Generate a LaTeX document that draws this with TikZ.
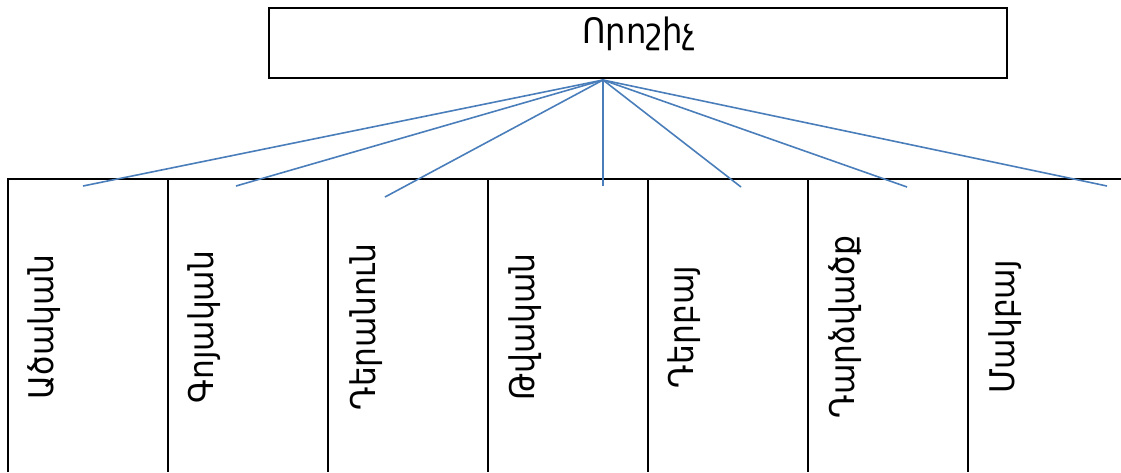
\documentclass[tikz,border=0pt]{standalone}
\usepackage{fontspec}
\setmainfont{DejaVu Sans}[FakeStretch=0.92]
\definecolor{linkblue}{HTML}{4A7EBB}
\tikzset{
  box/.style={draw=black, line width=2.2pt},
  link/.style={draw=linkblue, line width=1.6pt},
  lbl/.style={rotate=90, inner sep=0pt, font=\fontsize{34}{40}\selectfont},
  toplbl/.style={inner sep=0pt, font=\fontsize{35}{40}\selectfont, anchor=base},
}
\begin{document}
\begin{tikzpicture}[x=1pt,y=-1pt]
\useasboundingbox (0,0) rectangle (1121,472);
% top box
\draw[box] (269,8) rectangle (1007,78);
\node[toplbl] (top) at (639,43) {Որոշիչ};
\coordinate (hub) at (603,80);
% columns
\draw[box] (8,472) -- (8,179) -- (1121,179);
\foreach \x in {168,328,488,648,808,968} {\draw[box] (\x,179) -- (\x,472);}
\node[lbl] (c1) at (44,327) {Ածական};
\node[lbl] (c2) at (204,327) {Գոյական};
\node[lbl] (c3) at (366,327) {Դերանուն};
\node[lbl] (c4) at (525,327) {Թվական};
\node[lbl] (c5) at (684,327) {Դերբայ};
\node[lbl] (c6) at (845,327) {Դարձվածք};
\node[lbl] (c7) at (1005,327) {Մակբայ};
% link ends
\coordinate (e1) at (83,186);
\coordinate (e2) at (236,186);
\coordinate (e3) at (385,197);
\coordinate (e4) at (603,186);
\coordinate (e5) at (741,187);
\coordinate (e6) at (907,187);
\coordinate (e7) at (1107,186);
\foreach \i in {1,...,7} {\draw[link] (hub) -- (e\i);}
\end{tikzpicture}
\end{document}
